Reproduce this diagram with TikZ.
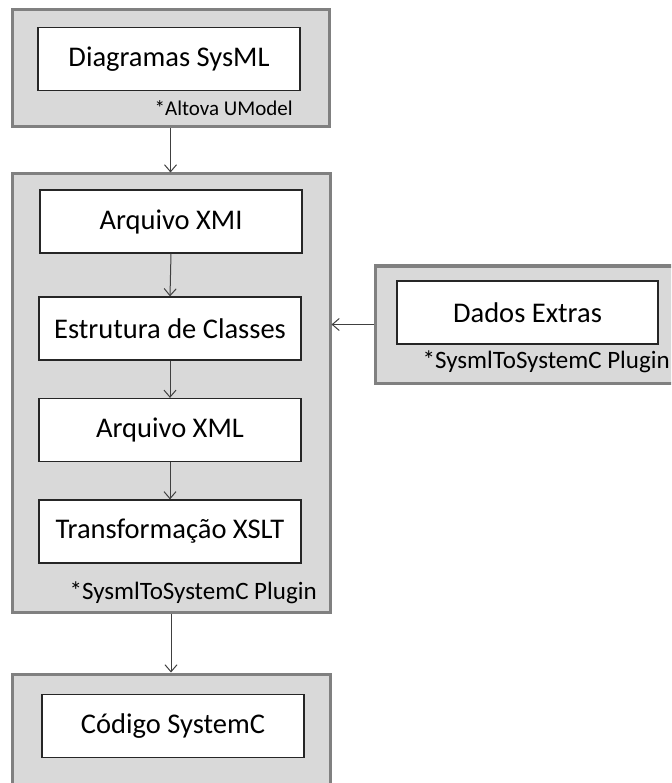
\documentclass[tikz,border=0pt]{standalone}
\usepackage{fontspec}
\setmainfont{Carlito}
\usetikzlibrary{arrows.meta,positioning}

\begin{document}
\begin{tikzpicture}[x=1pt,y=-1pt,>={Straight Barb[length=7pt,width=12pt]},
                    semithick]
  \tikzstyle{outerbox}=[rectangle,draw=gray,line width=3pt,fill=gray!30]
  \tikzstyle{stepbox}=[rectangle,draw=black!85,line width=1.2pt,fill=white,
                       minimum width=262pt,minimum height=63pt,
                       font=\fontsize{28.5}{33}\selectfont]
  \tikzstyle{tooltag}=[anchor=east,inner sep=0pt,font=\fontsize{25}{30}\selectfont]
  \tikzstyle{flow}=[->,draw=black!75,line width=1pt]

  \clip (0,0) rectangle (671,783);

  \node[outerbox,minimum width=317pt,minimum height=117pt] (umodel)  at (170.5,68.5) {};
  \node[stepbox]                  (sysml)      at (169,59)     {Diagramas SysML};
  \node[tooltag,font=\fontsize{21}{25}\selectfont]
                                  (umodeltag)  at (293,108)    {*Altova UModel};

  \node[outerbox,minimum width=318pt,minimum height=438pt] (plugin) at (171,393) {};
  \node[stepbox]                  (xmi)        at (171,221.5)  {Arquivo XMI};
  \node[stepbox]                  (classes)    at (170,328.5)  {Estrutura de Classes};
  \node[stepbox]                  (xml)        at (170,430)    {Arquivo XML};
  \node[stepbox]                  (xslt)       at (170,531.5)  {Transformação XSLT};
  \node[tooltag]                  (plugintag)  at (317,593)    {*SysmlToSystemC Plugin};

  \node[outerbox,minimum width=320pt,minimum height=117pt] (extrasbox) at (535,324.5) {};
  \node[stepbox,minimum width=261pt] (extras)  at (527.5,312.5) {Dados Extras};
  \node[tooltag]                  (extrastag)  at (670,362)    {*SysmlToSystemC Plugin};

  \node[outerbox,minimum width=318pt,minimum height=126pt] (systemc) at (171,737) {};
  \node[stepbox]                  (code)       at (173,726)    {Código SystemC};

  \draw[flow] (umodel.south)  -- (umodel.south |- plugin.north);
  \draw[flow] (xmi.south)     -- (classes.north);
  \draw[flow] (classes.south) -- (xml.north);
  \draw[flow] (xml.south)     -- (xslt.north);
  \draw[flow] (extrasbox.west) -- (plugin.east |- extrasbox.west);
  \draw[flow] (plugin.south)  -- (plugin.south |- systemc.north);
\end{tikzpicture}
\end{document}
